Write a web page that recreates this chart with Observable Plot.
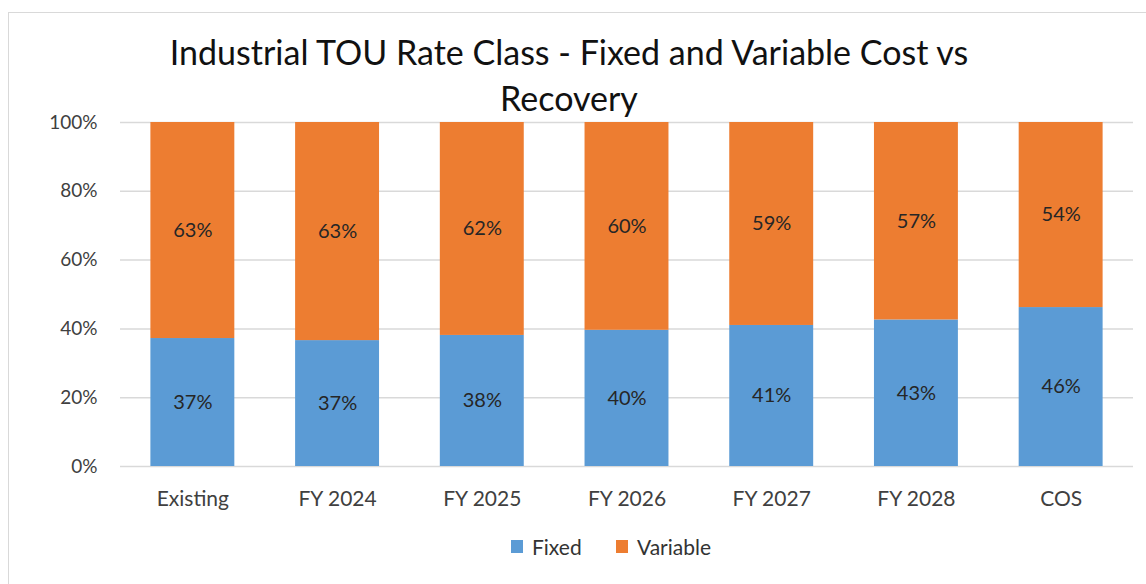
<!DOCTYPE html>
<html>
<head>
<meta charset="utf-8">
<script src="https://cdn.jsdelivr.net/npm/d3@7"></script>
<script src="https://cdn.jsdelivr.net/npm/@observablehq/plot@0.6"></script>
<style>
  html, body { margin: 0; padding: 0; background: #fff; overflow: hidden; }
  #wrap { position: relative; width: 1146px; height: 584px; overflow: hidden; font-family: Lato, "Open Sans", sans-serif; }
  #frame { position: absolute; left: 8px; top: 12px; width: 1300px; height: 800px; border: 1px solid #d9d9d9; box-sizing: border-box; }
  #title { position: absolute; left: 0; top: 29px; width: 1138px; text-align: center; font-size: 34px; line-height: 46px; color: #111; }
  #chart { position: absolute; left: 0; top: 92px; }
  #legend { position: absolute; top: 533px; left: 511px; height: 26px; font-size: 21px; color: #333; white-space: nowrap; }
  .item { position: absolute; top: 0; display: flex; align-items: center; height: 26px; }
  .sw { width: 12px; height: 13px; margin-right: 9px; }
</style>
</head>
<body>
<div id="wrap">
  <div id="frame"></div>
  <div id="title">Industrial TOU Rate Class - Fixed and Variable Cost vs<br>Recovery</div>
  <div id="chart"></div>
  <div id="legend"></div>
</div>
<script>
const categories = ["Existing", "FY 2024", "FY 2025", "FY 2026", "FY 2027", "FY 2028", "COS"];
const fixedShare = [0.372, 0.366, 0.381, 0.396, 0.410, 0.426, 0.462];
const variableShare = [0.628, 0.634, 0.619, 0.604, 0.590, 0.574, 0.538];
const fixedLabels = ["37%", "37%", "38%", "40%", "41%", "43%", "46%"];
const variableLabels = ["63%", "63%", "62%", "60%", "59%", "57%", "54%"];
const seriesNames = ["Fixed", "Variable"];
const seriesColors = ["#5B9BD5", "#ED7D31"];
const yTicks = [0, 0.2, 0.4, 0.6, 0.8, 1.0];

const rows = categories.flatMap((c, i) => [
  {cat: c, series: seriesNames[0], value: fixedShare[i], label: fixedLabels[i]},
  {cat: c, series: seriesNames[1], value: variableShare[i], label: variableLabels[i]}
]);

const pct = d => Math.round(d * 100) + "%";

const plot = Plot.plot({
  width: 1146,
  height: 424,
  marginLeft: 120,
  marginRight: 13,
  marginTop: 30,
  marginBottom: 50,
  style: {fontFamily: "Lato, 'Open Sans', sans-serif", fontSize: "19px", color: "#404040", background: "transparent"},
  x: {type: "band", domain: categories, paddingInner: 0.42, paddingOuter: 0.21, round: false, label: null},
  y: {domain: [0, 1], label: null},
  color: {domain: seriesNames, range: seriesColors},
  marks: [
    Plot.gridY(yTicks, {stroke: "#d9d9d9", strokeOpacity: 1, strokeWidth: 1.5}),
    Plot.barY(rows, Plot.stackY({x: "cat", y: "value", fill: "series", order: null})),
    Plot.text(rows, Plot.stackY({x: "cat", y: "value", text: "label", order: null, fill: "#262626", fontSize: 20})),
    Plot.axisY({ticks: yTicks, tickFormat: pct, tickSize: 0, tickPadding: 23, fill: "#404040", fontSize: 19}),
    Plot.axisX({tickSize: 0, tickPadding: 25, fill: "#404040", fontSize: 21})
  ]
});
document.getElementById("chart").appendChild(plot);

const legend = document.getElementById("legend");
const offsets = [0, 105];
seriesNames.forEach((name, i) => {
  const item = document.createElement("div");
  item.className = "item";
  item.style.left = offsets[i] + "px";
  const sw = document.createElement("span");
  sw.className = "sw";
  sw.style.background = seriesColors[i];
  const t = document.createElement("span");
  t.textContent = name;
  item.appendChild(sw);
  item.appendChild(t);
  legend.appendChild(item);
});
</script>
</body>
</html>
